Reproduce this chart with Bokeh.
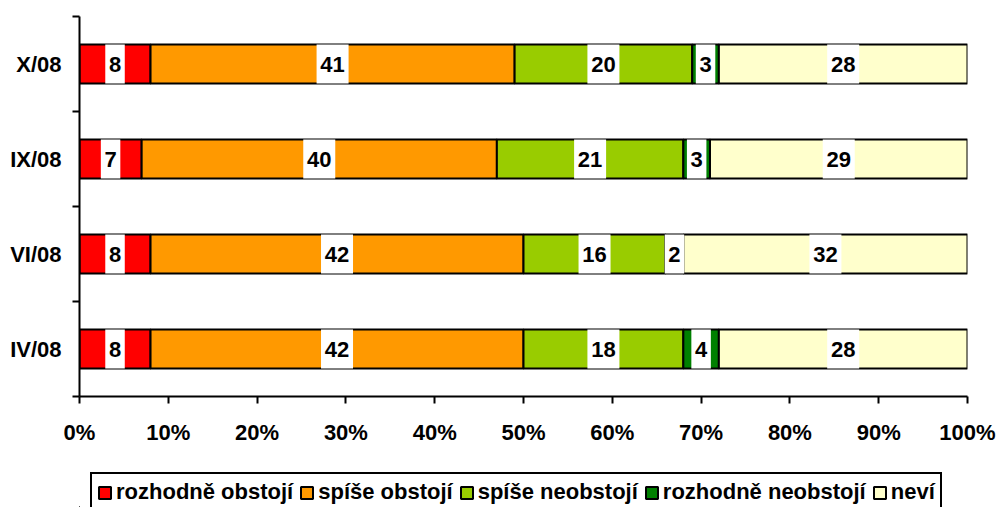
from bokeh.plotting import figure
from bokeh.layouts import column
from bokeh.models import Range1d, FixedTicker, PrintfTickFormatter, Legend, LegendItem, ColumnDataSource
from bokeh.core.properties import value
from bokeh.embed import file_html
from bokeh.resources import INLINE

# ---- data (categories listed top to bottom) ----
categories = ["X/08", "IX/08", "VI/08", "IV/08"]
series_names = ["rozhodně obstojí", "spíše obstojí", "spíše neobstojí", "rozhodně neobstojí", "neví"]
rozhodne_obstoji = [8, 7, 8, 8]
spise_obstoji = [41, 40, 42, 42]
spise_neobstoji = [20, 21, 16, 18]
rozhodne_neobstoji = [3, 3, 2, 4]
nevi = [28, 29, 32, 28]
x_ticks = [0, 10, 20, 30, 40, 50, 60, 70, 80, 90, 100]

series_values = [rozhodne_obstoji, spise_obstoji, spise_neobstoji, rozhodne_neobstoji, nevi]
colors = ["#FF0000", "#FF9900", "#99CC00", "#008000", "#FFFFCC"]

FONT = "Liberation Sans"
FS = "22px"
BAR_H = 0.41

n = len(categories)
ypos = [n - i - 0.5 for i in range(n)]

p = figure(width=998, height=456, output_backend="svg", toolbar_location=None,
           x_range=Range1d(0, 100), y_range=Range1d(0, n),
           min_border_left=79, min_border_top=16, min_border_right=31, min_border_bottom=60)
p.outline_line_color = None
p.xgrid.visible = False
p.ygrid.visible = False
p.background_fill_color = "white"
p.border_fill_color = "white"

# stacked bars
lefts = [0.0] * n
label_x, label_y, label_t, label_w = [], [], [], []
for name, vals, col in zip(series_names, series_values, colors):
    rights = [l + v for l, v in zip(lefts, vals)]
    src = ColumnDataSource(dict(y=ypos, left=lefts, right=rights))
    p.hbar(y="y", left="left", right="right", height=BAR_H, source=src,
           fill_color=col, line_color="black", line_width=2)
    for l, v, yy in zip(lefts, vals, ypos):
        label_x.append(l + v / 2)
        label_y.append(yy)
        label_t.append(str(v))
        label_w.append(12.5 * len(str(v)) + 7)
    lefts = rights

lab_src = ColumnDataSource(dict(x=label_x, y=label_y, t=label_t, w=label_w))
p.rect(x="x", y="y", width="w", width_units="screen", height=BAR_H, source=lab_src,
       fill_color="white", line_color=None)
p.text(x="x", y="y", text="t", source=lab_src, text_font=value(FONT), text_font_style="bold",
       text_font_size=FS, text_align="center", text_baseline="middle", text_color="black")

# x axis
xa = p.xaxis[0]
xa.ticker = FixedTicker(ticks=x_ticks)
xa.formatter = PrintfTickFormatter(format="%d%%")
xa.axis_line_width = 2
xa.axis_line_color = "black"
xa.major_tick_line_width = 2
xa.major_tick_line_color = "black"
xa.major_tick_out = 7
xa.major_tick_in = 0
xa.minor_tick_line_color = None
xa.major_label_text_font = FONT
xa.major_label_text_font_style = "bold"
xa.major_label_text_font_size = FS
xa.major_label_text_color = "black"
xa.major_label_standoff = 16

# y axis
ya = p.yaxis[0]
ya.ticker = FixedTicker(ticks=ypos, minor_ticks=list(range(n + 1)))
ya.major_label_overrides = {yy: c for yy, c in zip(ypos, categories)}
ya.axis_line_width = 2
ya.axis_line_color = "black"
ya.major_tick_out = 0
ya.major_tick_in = 0
ya.major_tick_line_color = None
ya.minor_tick_out = 7
ya.minor_tick_in = 0
ya.minor_tick_line_width = 2
ya.minor_tick_line_color = "black"
ya.major_label_text_font = FONT
ya.major_label_text_font_style = "bold"
ya.major_label_text_font_size = FS
ya.major_label_text_color = "black"
ya.major_label_standoff = 11

# legend in its own strip below the chart
pl = figure(width=998, height=51, output_backend="svg", toolbar_location=None,
            x_range=Range1d(0, 1), y_range=Range1d(0, 1),
            min_border_left=0, min_border_right=0, min_border_top=0, min_border_bottom=0)
pl.axis.visible = False
pl.xgrid.visible = False
pl.ygrid.visible = False
pl.outline_line_color = None
pl.background_fill_color = "white"
pl.border_fill_color = "white"
legend_items = []
for name, col in zip(series_names, colors):
    # placeholder bar kept outside the visible range; only its legend swatch is shown
    dummy = ColumnDataSource(dict(y=[-50], left=[-50], right=[-49]))
    r = pl.hbar(y="y", left="left", right="right", height=0.5, source=dummy,
                fill_color=col, line_color="black", line_width=2)
    legend_items.append(LegendItem(label=name, renderers=[r]))

legend = Legend(items=legend_items, orientation="horizontal", location=(11, -5),
                label_text_font=FONT, label_text_font_style="bold", label_text_font_size=FS,
                label_text_color="black", glyph_width=15, glyph_height=15, label_standoff=4,
                spacing=6, padding=5, margin=0, border_line_color="black", border_line_width=2,
                border_line_alpha=1.0,
                background_fill_color="white", background_fill_alpha=1.0, label_height=20)
pl.add_layout(legend, "center")

layout = column(p, pl, spacing=0)
open("out.html", "w").write(file_html(layout, INLINE))
